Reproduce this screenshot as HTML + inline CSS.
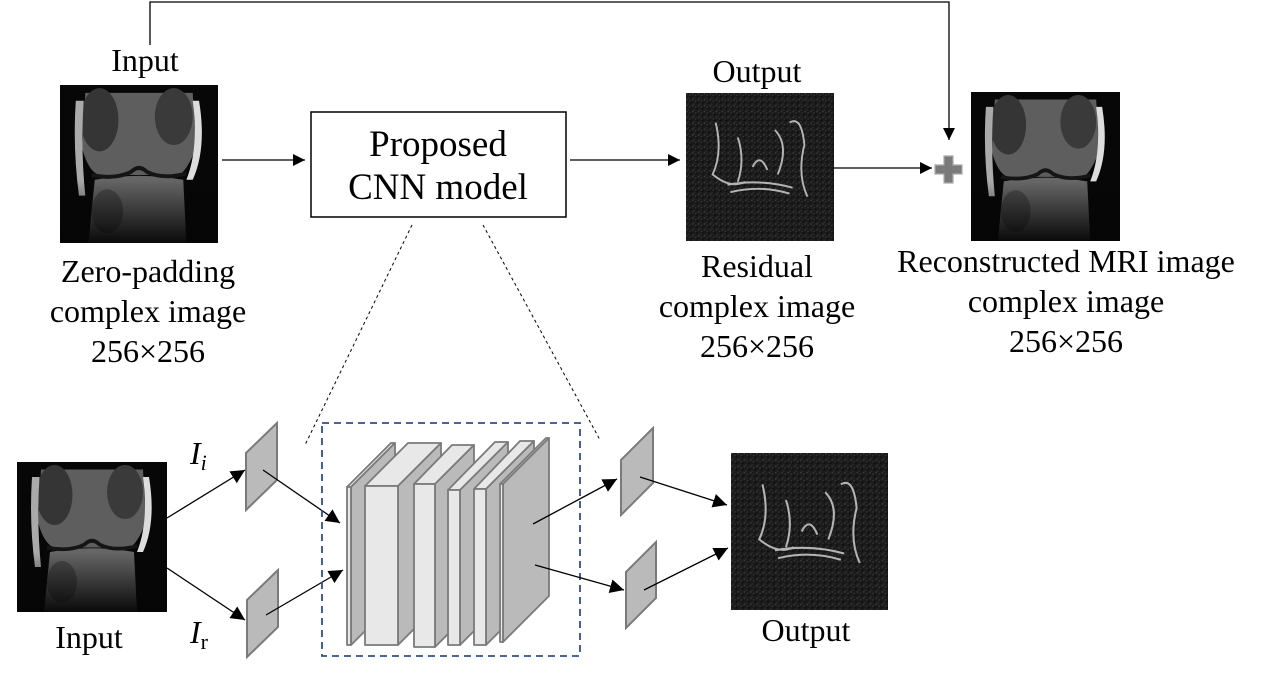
<!DOCTYPE html>
<html><head><meta charset="utf-8"><style>
html,body{margin:0;padding:0;background:#fff;}
svg{display:block;}
text{font-family:"Liberation Serif",serif;fill:#000;}
</style></head><body>
<svg width="1275" height="677" viewBox="0 0 1275 677" xmlns="http://www.w3.org/2000/svg">
<defs>
<marker id="ah" viewBox="0 0 10 10" refX="10" refY="5" markerWidth="12" markerHeight="12" markerUnits="userSpaceOnUse" orient="auto"><path d="M0,0L10,5L0,10z" fill="#000"/></marker>
<marker id="ah2" viewBox="0 0 10 10" refX="10" refY="5" markerWidth="14" markerHeight="14" markerUnits="userSpaceOnUse" orient="auto"><path d="M0,0L10,5L0,10z" fill="#000"/></marker>
<linearGradient id="fade" x1="0" y1="0" x2="0" y2="1"><stop offset="0.6" stop-color="#050505" stop-opacity="0"/><stop offset="1" stop-color="#050505" stop-opacity="0.95"/></linearGradient>
<pattern id="noise" width="4" height="4" patternUnits="userSpaceOnUse"><rect width="4" height="4" fill="#1a1a1a"/><rect x="0" y="0" width="1" height="1" fill="#3a3a3a"/><rect x="2" y="1" width="1" height="1" fill="#333"/><rect x="1" y="3" width="1" height="1" fill="#2c2c2c"/><rect x="3" y="2" width="1" height="1" fill="#0c0c0c"/></pattern>
<symbol id="knee" viewBox="0 0 100 100">
<rect width="100" height="100" fill="#070707"/>
<path d="M16,5 L84,5 L86,40 Q80,55 75,57 L25,57 Q18,55 14,40 Z" fill="#5e5e5e"/>
<ellipse cx="25" cy="22" rx="12" ry="20" fill="#353535"/>
<ellipse cx="72" cy="20" rx="12" ry="18" fill="#3a3a3a"/>
<path d="M10,10 Q8,40 12,70 L16,70 Q13,40 15,10Z" fill="#aaa"/>
<path d="M88,10 Q93,40 84,60 L80,60 Q88,40 84,10Z" fill="#ddd"/>
<path d="M22,60 Q50,55 78,60 L80,100 L18,100 Z" fill="#666"/>
<path d="M20,57 Q35,60 45,55 Q50,50 55,55 Q65,60 80,56" stroke="#151515" stroke-width="2.5" fill="none"/>
<ellipse cx="30" cy="80" rx="10" ry="14" fill="#4a4a4a"/>
<rect width="100" height="100" fill="url(#fade)"/>
</symbol>
<symbol id="resid" viewBox="0 0 100 100">
<rect width="100" height="100" fill="url(#noise)"/>
<g stroke="#cfcfcf" stroke-width="1.3" fill="none" opacity="0.85">
<path d="M20,20 Q25,40 18,55 Q30,65 40,60"/>
<path d="M35,30 Q40,45 35,60"/>
<path d="M70,20 Q78,15 80,35 Q75,55 82,70"/>
<path d="M60,25 Q70,35 62,55"/>
<path d="M28,62 Q50,58 72,64"/>
<path d="M30,67 Q50,62 70,68"/>
<path d="M45,50 Q50,40 55,52"/>
</g>
</symbol>
</defs>

<text x="145" y="71" font-size="32" text-anchor="middle">Input</text>
<use href="#knee" x="60" y="85" width="158" height="158"/>
<polyline points="150,45 150,2 949,2 949,140" fill="none" stroke="#000" stroke-width="1.3" marker-end="url(#ah)"/>
<line x1="222" y1="160" x2="305" y2="160" stroke="#000" stroke-width="1.3" marker-end="url(#ah)"/>
<rect x="311" y="112" width="255" height="105" fill="#fff" stroke="#000" stroke-width="1.5"/>
<text x="438" y="156" font-size="37" text-anchor="middle">Proposed</text>
<text x="438" y="199" font-size="37" text-anchor="middle">CNN model</text>
<line x1="570" y1="160" x2="680" y2="160" stroke="#000" stroke-width="1.3" marker-end="url(#ah)"/>
<text x="757" y="82" font-size="32" text-anchor="middle">Output</text>
<use href="#resid" x="686" y="93" width="148" height="148"/>
<line x1="834" y1="168" x2="932" y2="168" stroke="#000" stroke-width="1.3" marker-end="url(#ah)"/>
<path d="M944,156h9v9h9v9h-9v9h-9v-9h-9v-9h9z" fill="#7a7a7a" stroke="#aaa" stroke-width="1.2"/>
<use href="#knee" x="971" y="92" width="149" height="149"/>

<text x="148" y="282" font-size="32" text-anchor="middle">Zero-padding</text>
<text x="148" y="322" font-size="32" text-anchor="middle">complex image</text>
<text x="148" y="362" font-size="32" text-anchor="middle">256×256</text>
<text x="757" y="277" font-size="32" text-anchor="middle">Residual</text>
<text x="757" y="317" font-size="32" text-anchor="middle">complex image</text>
<text x="757" y="357" font-size="32" text-anchor="middle">256×256</text>
<text x="1066" y="272" font-size="32" text-anchor="middle">Reconstructed MRI image</text>
<text x="1066" y="312" font-size="32" text-anchor="middle">complex image</text>
<text x="1066" y="352" font-size="32" text-anchor="middle">256×256</text>

<line x1="412" y1="225" x2="305" y2="445" stroke="#000" stroke-width="1" stroke-dasharray="3,3"/>
<line x1="483" y1="225" x2="600" y2="440" stroke="#000" stroke-width="1" stroke-dasharray="3,3"/>

<use href="#knee" x="17" y="462" width="150" height="150"/>
<text x="89" y="648" font-size="32" text-anchor="middle">Input</text>
<text x="190" y="464" font-size="32" font-style="italic">I<tspan font-size="22" dy="6">i</tspan></text>
<text x="190" y="643" font-size="32" font-style="italic">I<tspan font-size="22" font-style="normal" dy="6">r</tspan></text>
<line x1="167" y1="518" x2="245" y2="470" stroke="#000" stroke-width="1.3" marker-end="url(#ah2)"/>
<line x1="167" y1="568" x2="245" y2="620" stroke="#000" stroke-width="1.3" marker-end="url(#ah2)"/>

<g fill="#bababa" stroke="#7a7a7a" stroke-width="2">
<polygon points="246,453 277,423 277,480 246,510"/>
<polygon points="247,600 278,570 278,627 247,657"/>
<polygon points="621,460 653,428 653,483 621,515"/>
<polygon points="626,572 656,542 656,598 626,628"/>
</g>
<line x1="263" y1="470" x2="340" y2="523" stroke="#000" stroke-width="1.3" marker-end="url(#ah2)"/>
<line x1="266" y1="615" x2="343" y2="570" stroke="#000" stroke-width="1.3" marker-end="url(#ah2)"/>

<rect x="322" y="423" width="258" height="233" fill="none" stroke="#2f4f8a" stroke-width="1.8" stroke-dasharray="7,5"/>

<g stroke="#7a7a7a" stroke-width="1.8" stroke-linejoin="round">
<polygon points="347,487 391,443 395,443 351,487" fill="#e8e8e8"/>
<polygon points="351,487 395,443 395,601 351,645" fill="#bababa"/>
<rect x="347" y="487" width="4" height="158" fill="#e8e8e8"/>
<polygon points="365,486 408,443 441,443 398,486" fill="#e8e8e8"/>
<polygon points="398,486 441,443 441,602 398,645" fill="#bababa"/>
<rect x="365" y="486" width="33" height="159" fill="#e8e8e8"/>
<polygon points="414,484 452,445 474,445 435,484" fill="#e8e8e8"/>
<polygon points="435,484 474,445 474,608 435,647" fill="#bababa"/>
<rect x="414" y="484" width="21" height="163" fill="#e8e8e8"/>
<polygon points="448,490 495,442 508,442 460,490" fill="#e8e8e8"/>
<polygon points="460,490 508,442 508,597 460,645" fill="#bababa"/>
<rect x="448" y="490" width="12" height="155" fill="#e8e8e8"/>
<polygon points="474,489 520,441 534,441 486,489" fill="#e8e8e8"/>
<polygon points="486,489 534,441 534,597 486,645" fill="#bababa"/>
<rect x="474" y="489" width="12" height="156" fill="#e8e8e8"/>
<polygon points="500,484 546,438 549,438 503,484" fill="#e8e8e8"/>
<polygon points="503,484 549,438 549,596 503,642" fill="#bababa"/>
<rect x="500" y="484" width="3" height="158" fill="#e8e8e8"/>
</g>

<line x1="533" y1="524" x2="617" y2="479" stroke="#000" stroke-width="1.3" marker-end="url(#ah2)"/>
<line x1="535" y1="565" x2="624" y2="590" stroke="#000" stroke-width="1.3" marker-end="url(#ah2)"/>
<line x1="640" y1="477" x2="727" y2="505" stroke="#000" stroke-width="1.3" marker-end="url(#ah2)"/>
<line x1="644" y1="590" x2="728" y2="548" stroke="#000" stroke-width="1.3" marker-end="url(#ah2)"/>

<use href="#resid" x="731" y="453" width="157" height="157"/>
<text x="806" y="641" font-size="32" text-anchor="middle">Output</text>
</svg>
</body></html>
